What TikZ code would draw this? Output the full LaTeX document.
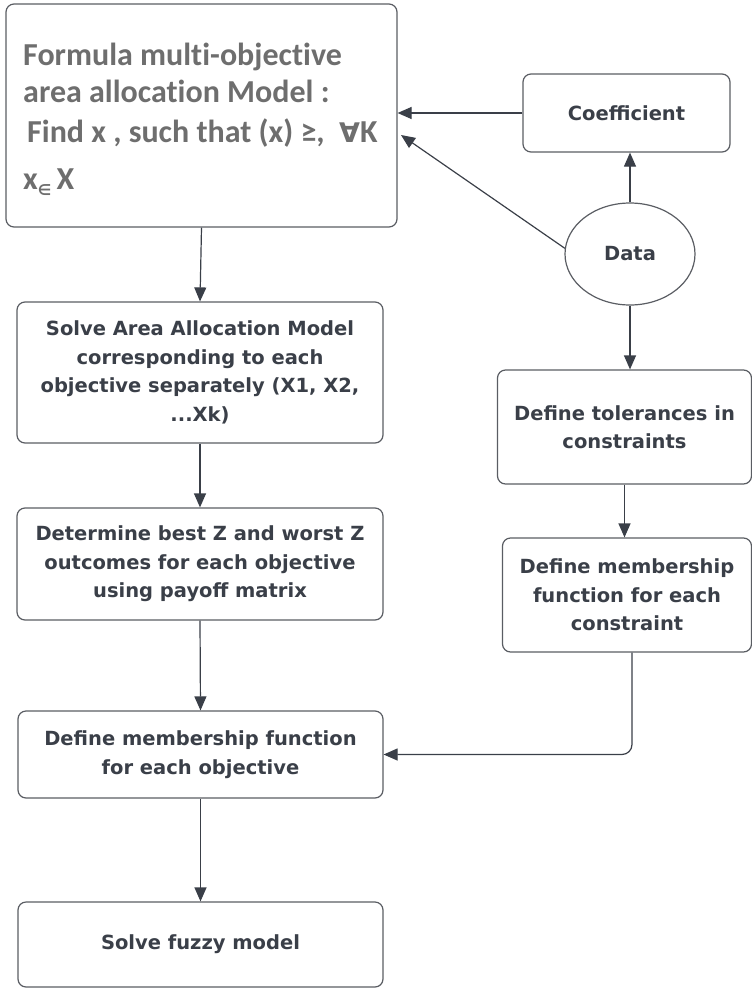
\documentclass[tikz,border=0pt]{standalone}
\usepackage{fontspec}
\setmainfont{DejaVu Sans}
\newfontfamily\headfont[Ligatures={NoCommon}]{Carlito}
\newfontfamily\symfont{DejaVu Sans}
\usetikzlibrary{arrows.meta,shapes.geometric,calc}
\definecolor{ink}{HTML}{3A3F48}
\definecolor{frame}{HTML}{5A5D63}
\definecolor{headgray}{HTML}{6E6E6E}
\tikzset{
  stepbox/.style={draw=frame, line width=1.2pt, rounded corners=8pt, align=center,
    text=ink, font=\bfseries\fontsize{19.5}{28.5}\selectfont, inner sep=0pt},
  databox/.style={draw=frame, line width=1.2pt, ellipse, text=ink,
    font=\bfseries\fontsize{19.5}{28.5}\selectfont, inner sep=0pt},
  arr/.style={draw=ink, line width=1.2pt, -{Triangle[length=14pt,width=12pt]}},
}
\begin{document}
\begin{tikzpicture}[x=1pt,y=-1pt]
\useasboundingbox (0,0) rectangle (752,988);

% model formulation
\node[stepbox, minimum width=391pt, minimum height=223pt] (top) at (201.5,115.5) {};
\node[anchor=north west, align=left, inner sep=0pt, text=headgray,
      font=\headfont\bfseries\fontsize{32}{37}\selectfont] (toptext) at (23,43)
  {Formula multi-objective\\[0pt]
   area allocation Model :\\[3pt]
   \hspace{4pt}Find x , such that (x) ≥,\ \ {\symfont\bfseries\fontsize{27}{27}\selectfont ∀}K\\[10pt]
   x\raisebox{-6pt}{\symfont\fontsize{15}{15}\selectfont ∈}\,X};

% right column
\node[stepbox, minimum width=207pt, minimum height=78pt] (coef) at (626.5,113) {Coefficient};
\node[databox, minimum width=130pt, minimum height=102pt] (data) at (630,254) {Data};
\node[stepbox, minimum width=254pt, minimum height=114pt] (tol) at (624.5,427)
  {Define tolerances in\\constraints};
\node[stepbox, minimum width=249pt, minimum height=114pt] (memc) at (627,595)
  {Define membership\\function for each\\constraint};

% left column
\node[stepbox, minimum width=366pt, minimum height=141pt] (solve) at (200,372.5)
  {Solve Area Allocation Model\\corresponding to each\\objective separately (X1, X2,\\...Xk)};
\node[stepbox, minimum width=366pt, minimum height=112pt] (best) at (200,564)
  {Determine best Z and worst Z\\outcomes for each objective\\using payoff matrix};
\node[stepbox, minimum width=365pt, minimum height=87pt] (memo) at (200.5,754.5)
  {Define membership function\\for each objective};
\node[stepbox, minimum width=365pt, minimum height=85pt] (fuzzy) at (200.5,944.5)
  {Solve fuzzy model};

% connectors
\coordinate (dataTip) at (401,135);
\draw[arr] (top.south) -- (solve.north);
\draw[arr] (solve.south) -- (best.north);
\draw[arr] (best.south) -- (memo.north);
\draw[arr] (memo.south) -- (fuzzy.north);
\draw[arr] (coef.west) -- (coef.west -| top.east);
\draw[arr] (data.175) -- (dataTip);
\draw[arr] (data.north) -- (data.north |- coef.south);
\draw[arr] (data.south) -- (data.south |- tol.north);
\draw[arr] (tol.south) -- (tol.south |- memc.north);
\draw[arr, rounded corners=10pt] ([xshift=5pt]memc.south) |- (memo.east);
\end{tikzpicture}
\end{document}
